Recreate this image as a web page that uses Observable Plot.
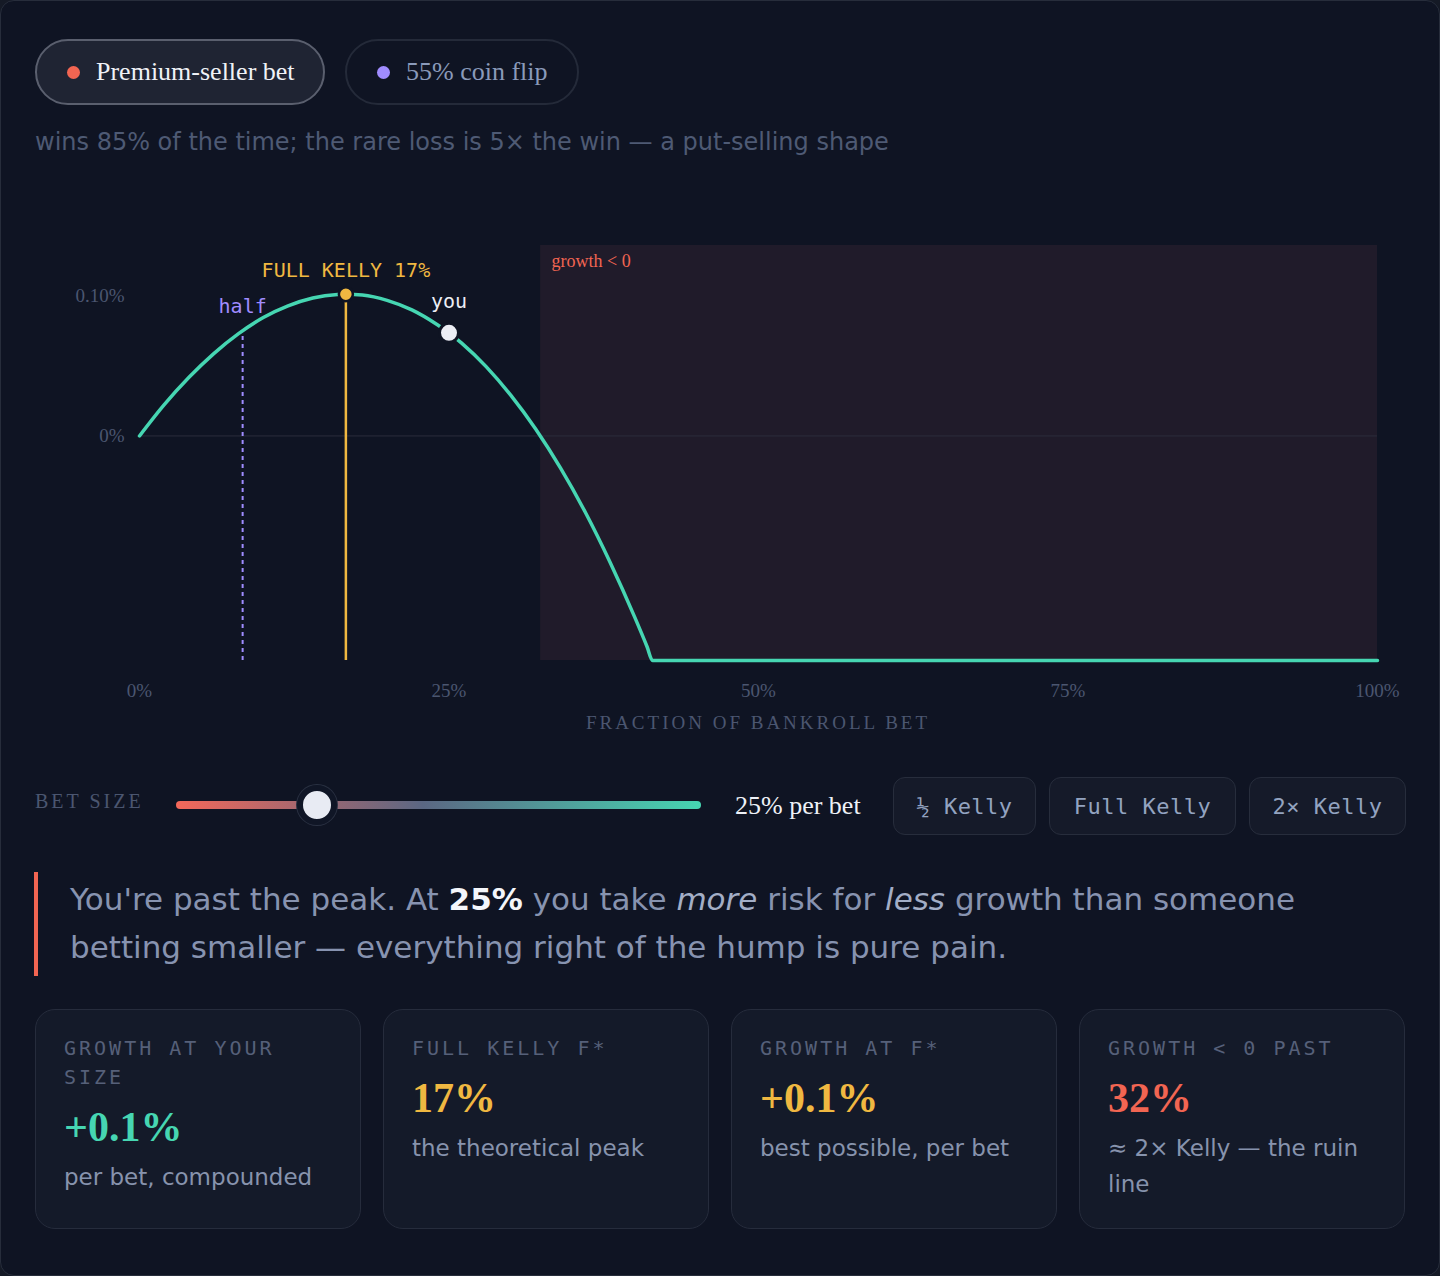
<!DOCTYPE html>
<html>
<head>
<meta charset="utf-8">
<script src="https://cdn.jsdelivr.net/npm/d3@7"></script>
<script src="https://cdn.jsdelivr.net/npm/@observablehq/plot@0.6"></script>
<style>
  html, body { margin: 0; padding: 0; background: #151a26; }
  .panel {
    position: relative; width: 1440px; height: 1276px; box-sizing: border-box;
    border: 1px solid #272d3b; border-radius: 14px; background: #0f1423;
    font-family: "DejaVu Sans", sans-serif; overflow: hidden;
  }
  .abs { position: absolute; }
  .pill {
    position: absolute; top: 38px; height: 66px; box-sizing: border-box; border-radius: 33px;
    display: flex; align-items: center; font-family: "Liberation Serif", serif; font-size: 26px;
    padding-left: 30px;
  }
  .pill .dot { width: 13px; height: 13px; border-radius: 50%; margin-right: 16px; }
  .pill.on { left: 34px; width: 290px; background: #1f2433; border: 2px solid #5a5f6e; color: #f0f2f7; }
  .pill.off { left: 344px; width: 234px; background: transparent; border: 2px solid #242a39; color: #8a9aba; }
  .subtitle { left: 34px; top: 125px; font-size: 24px; line-height: 32px; color: #4e5a74; white-space: nowrap; }
  .axis-title {
    left: 138px; width: 1238px; top: 711px; text-align: center; font-family: "Liberation Serif", serif;
    font-size: 19px; line-height: 22px; letter-spacing: 3px; color: #4b5670;
  }
  .bet-label { left: 34px; top: 788px; font-family: "Liberation Serif", serif; font-size: 20px; line-height: 24px; letter-spacing: 3px; color: #4b5670; }
  input[type=range] {
    position: absolute; left: 175px; top: 800px; width: 525px; height: 8px; margin: 0;
    -webkit-appearance: none; appearance: none; border-radius: 4px; outline: none;
    background: linear-gradient(90deg, #f4685a 0%, #5b6783 47%, #46d6b2 100%);
  }
  input[type=range]::-webkit-slider-thumb {
    -webkit-appearance: none; appearance: none; box-sizing: border-box;
    width: 40px; height: 40px; border-radius: 50%; background: #e8ebf3;
    border: 6px solid #101626; box-shadow: 0 0 0 1px #2a3142;
  }
  .bet-value { left: 734px; top: 789px; font-family: "Liberation Serif", serif; font-size: 26px; line-height: 32px; color: #eef1f7; }
  .preset {
    position: absolute; top: 776px; height: 58px; box-sizing: border-box; border-radius: 12px;
    background: #151a29; border: 1.5px solid #272d3c; color: #93a3c0;
    font-family: "DejaVu Sans Mono", monospace; font-size: 22px; letter-spacing: 0.5px;
    display: flex; align-items: center; justify-content: center;
  }
  .note {
    left: 33px; top: 871px; height: 104px; border-left: 4px solid #f26552; box-sizing: border-box;
  }
  .note-text {
    left: 69px; top: 874px; width: 1330px; font-size: 31px; line-height: 48px; color: #8793b0;
  }
  .note-text b { color: #f4f6fb; }
  .note-text i { color: #a3aec6; }
  .stat {
    position: absolute; top: 1008px; width: 326px; height: 220px; box-sizing: border-box;
    border-radius: 20px; background: #141a29; border: 1.5px solid #262c3c; padding: 24px 28px 0 28px;
  }
  .stat .k { font-family: "DejaVu Sans Mono", monospace; font-size: 20px; line-height: 29px; letter-spacing: 3px; color: #566079; }
  .stat .v { font-family: "Liberation Serif", serif; font-weight: bold; font-size: 42px; line-height: 48px; margin-top: 11px; }
  .stat .d { font-size: 23px; line-height: 36px; color: #8793ad; margin-top: 8px; }
</style>
</head>
<body>
<div class="panel" id="panel">
  <div class="pill on"><span class="dot" style="background:#f26552"></span>Premium-seller bet</div>
  <div class="pill off"><span class="dot" style="background:#a08cff"></span>55% coin flip</div>
  <div class="abs subtitle">wins 85% of the time; the rare loss is 5× the win — a put-selling shape</div>
  <div class="abs" id="chart" style="left:34px; top:183px;"></div>
  <div class="abs axis-title">FRACTION OF BANKROLL BET</div>

  <div class="abs bet-label">BET SIZE</div>
  <input type="range" min="0" max="100" value="25">
  <div class="abs bet-value">25% per bet</div>
  <div class="preset" style="left:892px; width:143px;">½ Kelly</div>
  <div class="preset" style="left:1048px; width:187px;">Full Kelly</div>
  <div class="preset" style="left:1248px; width:157px;">2× Kelly</div>

  <div class="abs note"></div>
  <div class="abs note-text">You're past the peak. At <b>25%</b> you take <i>more</i> risk for <i>less</i> growth than someone betting smaller — everything right of the hump is pure pain.</div>

  <div class="stat" style="left:34px;"><div class="k">GROWTH AT YOUR SIZE</div><div class="v" style="color:#46d6b2">+0.1%</div><div class="d">per bet, compounded</div></div>
  <div class="stat" style="left:382px;"><div class="k">FULL KELLY F*</div><div class="v" style="color:#f0b841">17%</div><div class="d">the theoretical peak</div></div>
  <div class="stat" style="left:730px;"><div class="k">GROWTH AT F*</div><div class="v" style="color:#f0b841">+0.1%</div><div class="d">best possible, per bet</div></div>
  <div class="stat" style="left:1078px;"><div class="k">GROWTH &lt; 0 PAST</div><div class="v" style="color:#f26552">32%</div><div class="d">≈ 2× Kelly — the ruin line</div></div>
</div>

<script>
// Fraction of bankroll staked per bet, and the expected log-growth per bet at that size.
const betFraction = [0, 0.02, 0.04, 0.06, 0.08, 0.10, 0.12, 0.14, 0.16, 0.1667, 0.18, 0.20, 0.22, 0.24, 0.25,
                     0.26, 0.28, 0.30, 0.32, 0.34, 0.36, 0.38, 0.40, 0.41, 0.4144, 0.50, 0.75, 1.00];
const growthPerBet = [0, 0.000223, 0.000418, 0.000587, 0.000729, 0.000844, 0.000927, 0.000983, 0.001008, 0.00101, 0.001004,
                      0.000966, 0.000898, 0.000796, 0.000735, 0.000663, 0.000494, 0.000289, 0.000049, -0.000228, -0.000542,
                      -0.000898, -0.001291, -0.001502, -0.0016, -0.0016, -0.0016, -0.0016];

// Reference sizes marked on the curve.
const markerNames = ["half", "kelly", "you"];
const markerFraction = [0.0833, 0.1667, 0.25];
const markerGrowth = [0.000747, 0.00101, 0.000735];
const markerLabels = ["half", "FULL KELLY 17%", "you"];

const ruinFraction = 0.324;             // growth turns negative beyond this size
const yFloor = -0.0016, yTop = 0.001357;
const xTicks = [0, 0.25, 0.5, 0.75, 1];
const xTickLabels = ["0%", "25%", "50%", "75%", "100%"];
const yTicks = [0, 0.001];
const yTickLabels = ["0%", "0.10%"];

const curve = betFraction.map((f, i) => ({f, g: growthPerBet[i]}));
const markers = markerNames.map((name, i) => ({name, f: markerFraction[i], g: markerGrowth[i], label: markerLabels[i]}));
const byName = Object.fromEntries(markers.map(m => [m.name, m]));

const teal = "#46d6b2", gold = "#f0b841", purple = "#a08cff", red = "#f26552";
const mono = "DejaVu Sans Mono", serif = "Liberation Serif";

const chart = Plot.plot({
  width: 1370,
  height: 561,
  marginLeft: 104,
  marginRight: 28,
  marginTop: 61,
  marginBottom: 85,
  style: {background: "transparent", color: "#4b5670", fontFamily: serif, fontSize: "19px", overflow: "visible"},
  x: {domain: [0, 1]},
  y: {domain: [yFloor, yTop]},
  marks: [
    Plot.rect([{x1: ruinFraction, x2: 1}], {x1: "x1", x2: "x2", y1: yFloor, y2: yTop, fill: "#201b2a"}),
    Plot.ruleY([0], {stroke: "#2b2d3b", strokeWidth: 1}),
    Plot.text(["growth < 0"], {x: ruinFraction, y: yTop, dx: 11, dy: 16, textAnchor: "start",
      fill: red, fontFamily: serif, fontSize: 18}),
    Plot.ruleX([byName.half], {x: "f", y1: yFloor, y2: "g", stroke: purple, strokeWidth: 2, strokeDasharray: "4,4"}),
    Plot.ruleX([byName.kelly], {x: "f", y1: yFloor, y2: "g", stroke: gold, strokeWidth: 2.5}),
    Plot.line(curve, {x: "f", y: "g", stroke: teal, strokeWidth: 3.5, curve: "monotone-x"}),
    Plot.dot([byName.kelly], {x: "f", y: "g", r: 7, fill: gold, stroke: "#0f1423", strokeWidth: 2.5}),
    Plot.dot([byName.you], {x: "f", y: "g", r: 9.5, fill: "#eceef5", stroke: "#0f1423", strokeWidth: 3}),
    Plot.text([byName.kelly], {x: "f", y: "g", text: "label", dy: -24, fill: gold, fontFamily: mono, fontSize: 20}),
    Plot.text([byName.half], {x: "f", y: "g", text: "label", dy: -25, fill: purple, fontFamily: mono, fontSize: 20}),
    Plot.text([byName.you], {x: "f", y: "g", text: "label", dy: -31, fill: "#eceef5", fontFamily: mono, fontSize: 20}),
    Plot.axisX({ticks: xTicks, tickFormat: (d, i) => xTickLabels[i], tickSize: 0, tickPadding: 23, label: null}),
    Plot.axisY({ticks: yTicks, tickFormat: (d, i) => yTickLabels[i], tickSize: 0, tickPadding: 15, label: null})
  ]
});
document.getElementById("chart").appendChild(chart);
</script>
</body>
</html>
